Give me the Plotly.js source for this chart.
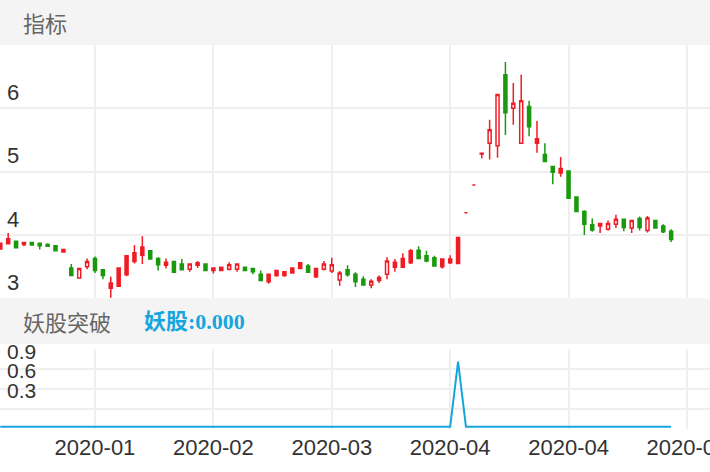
<!DOCTYPE html>
<html><head><meta charset="utf-8">
<script src="https://cdn.plot.ly/plotly-3.0.1.min.js"></script>
<style>html,body{margin:0;padding:0;background:#fff}#chart{width:710px;height:472px}</style>
</head><body><div id="chart"></div>
<script>
// candle slot index (category position)
const candleIdx = [0,1,2,3,4,5,6,7,8,9,10,11,12,13,14,15,16,17,18,19,20,21,22,23,24,25,26,27,28,29,30,31,32,33,34,35,36,37,38,39,40,41,42,43,44,45,46,47,48,49,50,51,52,53,54,55,56,57,58,59,60,61,62,63,64,65,66,67,68,69,70,71,72,73,74,75,76,77,78,79,80,81,82,83,84,85];
const openVals  = [3.78,3.86,3.90,3.85,3.88,3.87,3.85,3.83,3.73,3.48,3.32,3.50,3.63,3.45,3.16,3.19,3.37,3.58,3.68,3.75,3.63,3.52,3.58,3.54,3.46,3.52,3.54,3.44,3.44,3.46,3.46,3.49,3.47,3.38,3.26,3.36,3.36,3.40,3.47,3.51,3.34,3.46,3.43,3.29,3.45,3.38,3.30,3.21,3.28,3.38,3.49,3.49,3.56,3.76,3.67,3.64,3.50,3.56,3.55,4.35,4.79,5.28,5.45,5.41,6.53,6.00,5.45,6.03,5.45,5.27,5.08,4.98,5.01,4.60,4.37,4.16,4.14,4.09,4.17,4.25,4.11,4.26,4.07,4.23,4.14,4.06];
const highVals  = [3.87,4.03,3.91,3.89,3.89,3.87,3.87,3.84,3.78,3.54,3.47,3.63,3.66,3.45,3.34,3.49,3.68,3.84,3.98,3.76,3.65,3.63,3.59,3.62,3.54,3.59,3.54,3.49,3.49,3.57,3.55,3.49,3.48,3.44,3.38,3.45,3.43,3.49,3.57,3.54,3.48,3.59,3.64,3.43,3.52,3.41,3.35,3.30,3.36,3.65,3.62,3.71,3.78,3.82,3.75,3.67,3.62,3.68,3.96,4.35,4.79,5.29,5.82,6.22,6.73,6.40,6.53,6.12,5.80,5.45,5.08,5.23,5.01,4.60,4.39,4.26,4.19,4.23,4.32,4.26,4.23,4.29,4.30,4.24,4.17,4.09];
const lowVals   = [3.78,3.85,3.79,3.82,3.84,3.77,3.82,3.75,3.72,3.36,3.31,3.46,3.40,3.30,3.01,3.18,3.35,3.55,3.54,3.61,3.44,3.47,3.40,3.44,3.42,3.48,3.43,3.39,3.43,3.44,3.42,3.43,3.38,3.27,3.23,3.34,3.34,3.39,3.47,3.40,3.32,3.44,3.40,3.20,3.34,3.18,3.21,3.16,3.24,3.30,3.42,3.49,3.54,3.62,3.57,3.50,3.47,3.54,3.55,4.35,4.79,5.21,5.19,5.22,5.58,5.74,5.45,5.56,5.30,5.15,4.80,4.92,4.57,4.37,4.00,4.05,4.03,4.07,4.11,4.06,4.03,4.07,4.04,4.10,4.03,3.89];
const closeVals = [3.87,3.94,3.80,3.88,3.84,3.83,3.82,3.75,3.77,3.36,3.47,3.58,3.44,3.36,3.24,3.48,3.67,3.72,3.81,3.62,3.53,3.57,3.41,3.45,3.54,3.56,3.44,3.48,3.49,3.53,3.54,3.44,3.42,3.28,3.38,3.44,3.42,3.48,3.56,3.41,3.47,3.54,3.53,3.40,3.37,3.26,3.21,3.27,3.33,3.59,3.57,3.63,3.75,3.63,3.59,3.51,3.62,3.62,3.96,4.35,4.79,5.29,5.66,6.22,5.93,6.08,6.12,5.71,5.52,5.16,4.99,5.05,4.58,4.37,4.17,4.08,4.18,4.18,4.25,4.12,4.23,4.12,4.27,4.11,4.05,3.93];
// 1 = drawn as hollow red candle
const hollowFlags = [0,0,0,0,0,0,0,0,0,0,1,1,0,0,0,0,0,0,0,0,0,0,0,0,1,0,0,0,0,1,1,0,0,0,0,0,0,0,0,0,0,1,1,1,0,0,0,1,0,1,0,0,0,0,0,0,0,0,0,0,0,0,1,1,0,1,1,0,0,0,0,0,0,0,0,0,0,1,1,0,1,0,1,0,0,0];
// 妖股 indicator
const signalVals = [0,0,0,0,0,0,0,0,0,0,0,0,0,0,0,0,0,0,0,0,0,0,0,0,0,0,0,0,0,0,0,0,0,0,0,0,0,0,0,0,0,0,0,0,0,0,0,0,0,0,0,0,0,0,0,0,0,0,1,0,0,0,0,0,0,0,0,0,0,0,0,0,0,0,0,0,0,0,0,0,0,0,0,0,0,0];
const xTickIdx = [12,27,42,57,72,87];
const xTickText = ["2020-01","2020-02","2020-03","2020-04","2020-04","2020-05"];
const priceTicks = [3,4,5,6];
const priceTickText = ["3","4","5","6"];
const subTicks = [0.3,0.6,0.9];
const subTickText = ["0.3","0.6","0.9"];

const RED = '#ee1c24', GREEN = '#1a990e', BLUE = '#17a5de', GRID = '#efefef', BAND = '#f4f4f4';

function pick(arr, want) { return arr.filter((v, i) => hollowFlags[i] === want); }

const solid = {
  type: 'candlestick', x: pick(candleIdx,0), open: pick(openVals,0), high: pick(highVals,0),
  low: pick(lowVals,0), close: pick(closeVals,0), xaxis: 'x', yaxis: 'y',
  increasing: {line: {color: RED, width: 1.5}, fillcolor: RED},
  decreasing: {line: {color: GREEN, width: 1.5}, fillcolor: GREEN},
  whiskerwidth: 0, hoverinfo: 'skip'
};
const hollow = {
  type: 'candlestick', x: pick(candleIdx,1), open: pick(openVals,1), high: pick(highVals,1),
  low: pick(lowVals,1), close: pick(closeVals,1), xaxis: 'x', yaxis: 'y',
  increasing: {line: {color: RED, width: 1.5}, fillcolor: '#ffffff'},
  decreasing: {line: {color: GREEN, width: 1.5}, fillcolor: GREEN},
  whiskerwidth: 0, hoverinfo: 'skip'
};
const sig = {
  type: 'scatter', mode: 'lines', x: candleIdx, y: signalVals, xaxis: 'x2', yaxis: 'y2',
  line: {color: BLUE, width: 2}, hoverinfo: 'skip'
};
// invisible helper trace so the grid overlay axis exists
const gridHelper = {type:'scatter', mode:'none', x:[candleIdx[0]], y:[0], xaxis:'x2', yaxis:'y3', hoverinfo:'skip', showlegend:false};

const H = 472;
const py = p => 1 - p / H;
const tickFont = {family: 'Liberation Sans, Arial, sans-serif', size: 22, color: '#333333'};
const subTickFont = {family: 'Liberation Sans, Arial, sans-serif', size: 21, color: '#333333'};
const xRange = [-0.035, 89.92];

const lastSig = signalVals[signalVals.length - 1].toFixed(3);

const layout = {
  width: 710, height: 472,
  margin: {l: 0, r: 0, t: 0, b: 0, pad: 0},
  paper_bgcolor: '#ffffff', plot_bgcolor: '#ffffff',
  showlegend: false, boxgap: 0.45,
  xaxis: {domain: [0, 1], anchor: 'y', range: xRange, tickmode: 'array', tickvals: xTickIdx, ticktext: xTickText,
          showticklabels: false, showgrid: true, gridcolor: GRID, gridwidth: 2, zeroline: false, showline: false, ticks: '',
          rangeslider: {visible: false}, fixedrange: true},
  yaxis: {domain: [py(298.3), py(45)], anchor: 'x', range: [3, 7], tickmode: 'array', tickvals: priceTicks, ticktext: priceTickText,
          ticklabelposition: 'inside', ticklabelshift: -16, ticklabelstandoff: 4, ticklabeloverflow: 'allow', tickfont: tickFont,
          showgrid: true, gridcolor: GRID, gridwidth: 2, zeroline: false, showline: false, ticks: '', fixedrange: true},
  xaxis2: {domain: [0, 1], anchor: 'y2', range: xRange, tickmode: 'array', tickvals: xTickIdx, ticktext: xTickText,
          tickfont: tickFont, ticklabelstandoff: 3, ticklabeloverflow: 'allow', showgrid: true, gridcolor: GRID, gridwidth: 2,
          zeroline: false, showline: false, ticks: '', fixedrange: true},
  yaxis2: {domain: [py(428.7), py(349.3)], anchor: 'x2', range: [-0.031, 1.191], tickmode: 'array', tickvals: subTicks, ticktext: subTickText,
          ticklabelposition: 'inside', ticklabelshift: -17, ticklabelstandoff: 4, ticklabeloverflow: 'allow', tickfont: subTickFont,
          showgrid: false, zeroline: false, showline: false, ticks: '', fixedrange: true},
  yaxis3: {overlaying: 'y2', anchor: 'x2', range: [0, 4], dtick: 1, tick0: 0, showticklabels: false,
          showgrid: true, gridcolor: GRID, gridwidth: 2, zeroline: false, showline: false, ticks: '', fixedrange: true},
  shapes: [
    {type: 'rect', xref: 'paper', yref: 'paper', x0: 0, x1: 1, y0: py(45), y1: 1, fillcolor: BAND, line: {width: 0}, layer: 'below'},
    {type: 'rect', xref: 'paper', yref: 'paper', x0: 0, x1: 1, y0: py(344), y1: py(298.3), fillcolor: BAND, line: {width: 0}, layer: 'below'}
  ],
  annotations: [
    {text: '指标', xref: 'paper', yref: 'paper', x: 21/710, y: py(21.5), xanchor: 'left', yanchor: 'middle', showarrow: false,
     font: {family: 'Noto Sans CJK SC, sans-serif', size: 22, color: '#666666'}},
    {text: '妖股突破', xref: 'paper', yref: 'paper', x: 21/710, y: py(321), xanchor: 'left', yanchor: 'middle', showarrow: false,
     font: {family: 'Noto Sans CJK SC, sans-serif', size: 22, color: '#666666'}},
    {text: '<b>妖股:' + lastSig + '</b>', xref: 'paper', yref: 'paper', x: 142/710, y: py(321), xanchor: 'left', yanchor: 'middle', showarrow: false,
     font: {family: 'Liberation Serif, Noto Sans CJK SC, serif', size: 22, color: BLUE}}
  ]
};

Plotly.newPlot('chart', [solid, hollow, sig, gridHelper], layout, {displayModeBar: false, staticPlot: true});
</script>
</body></html>
